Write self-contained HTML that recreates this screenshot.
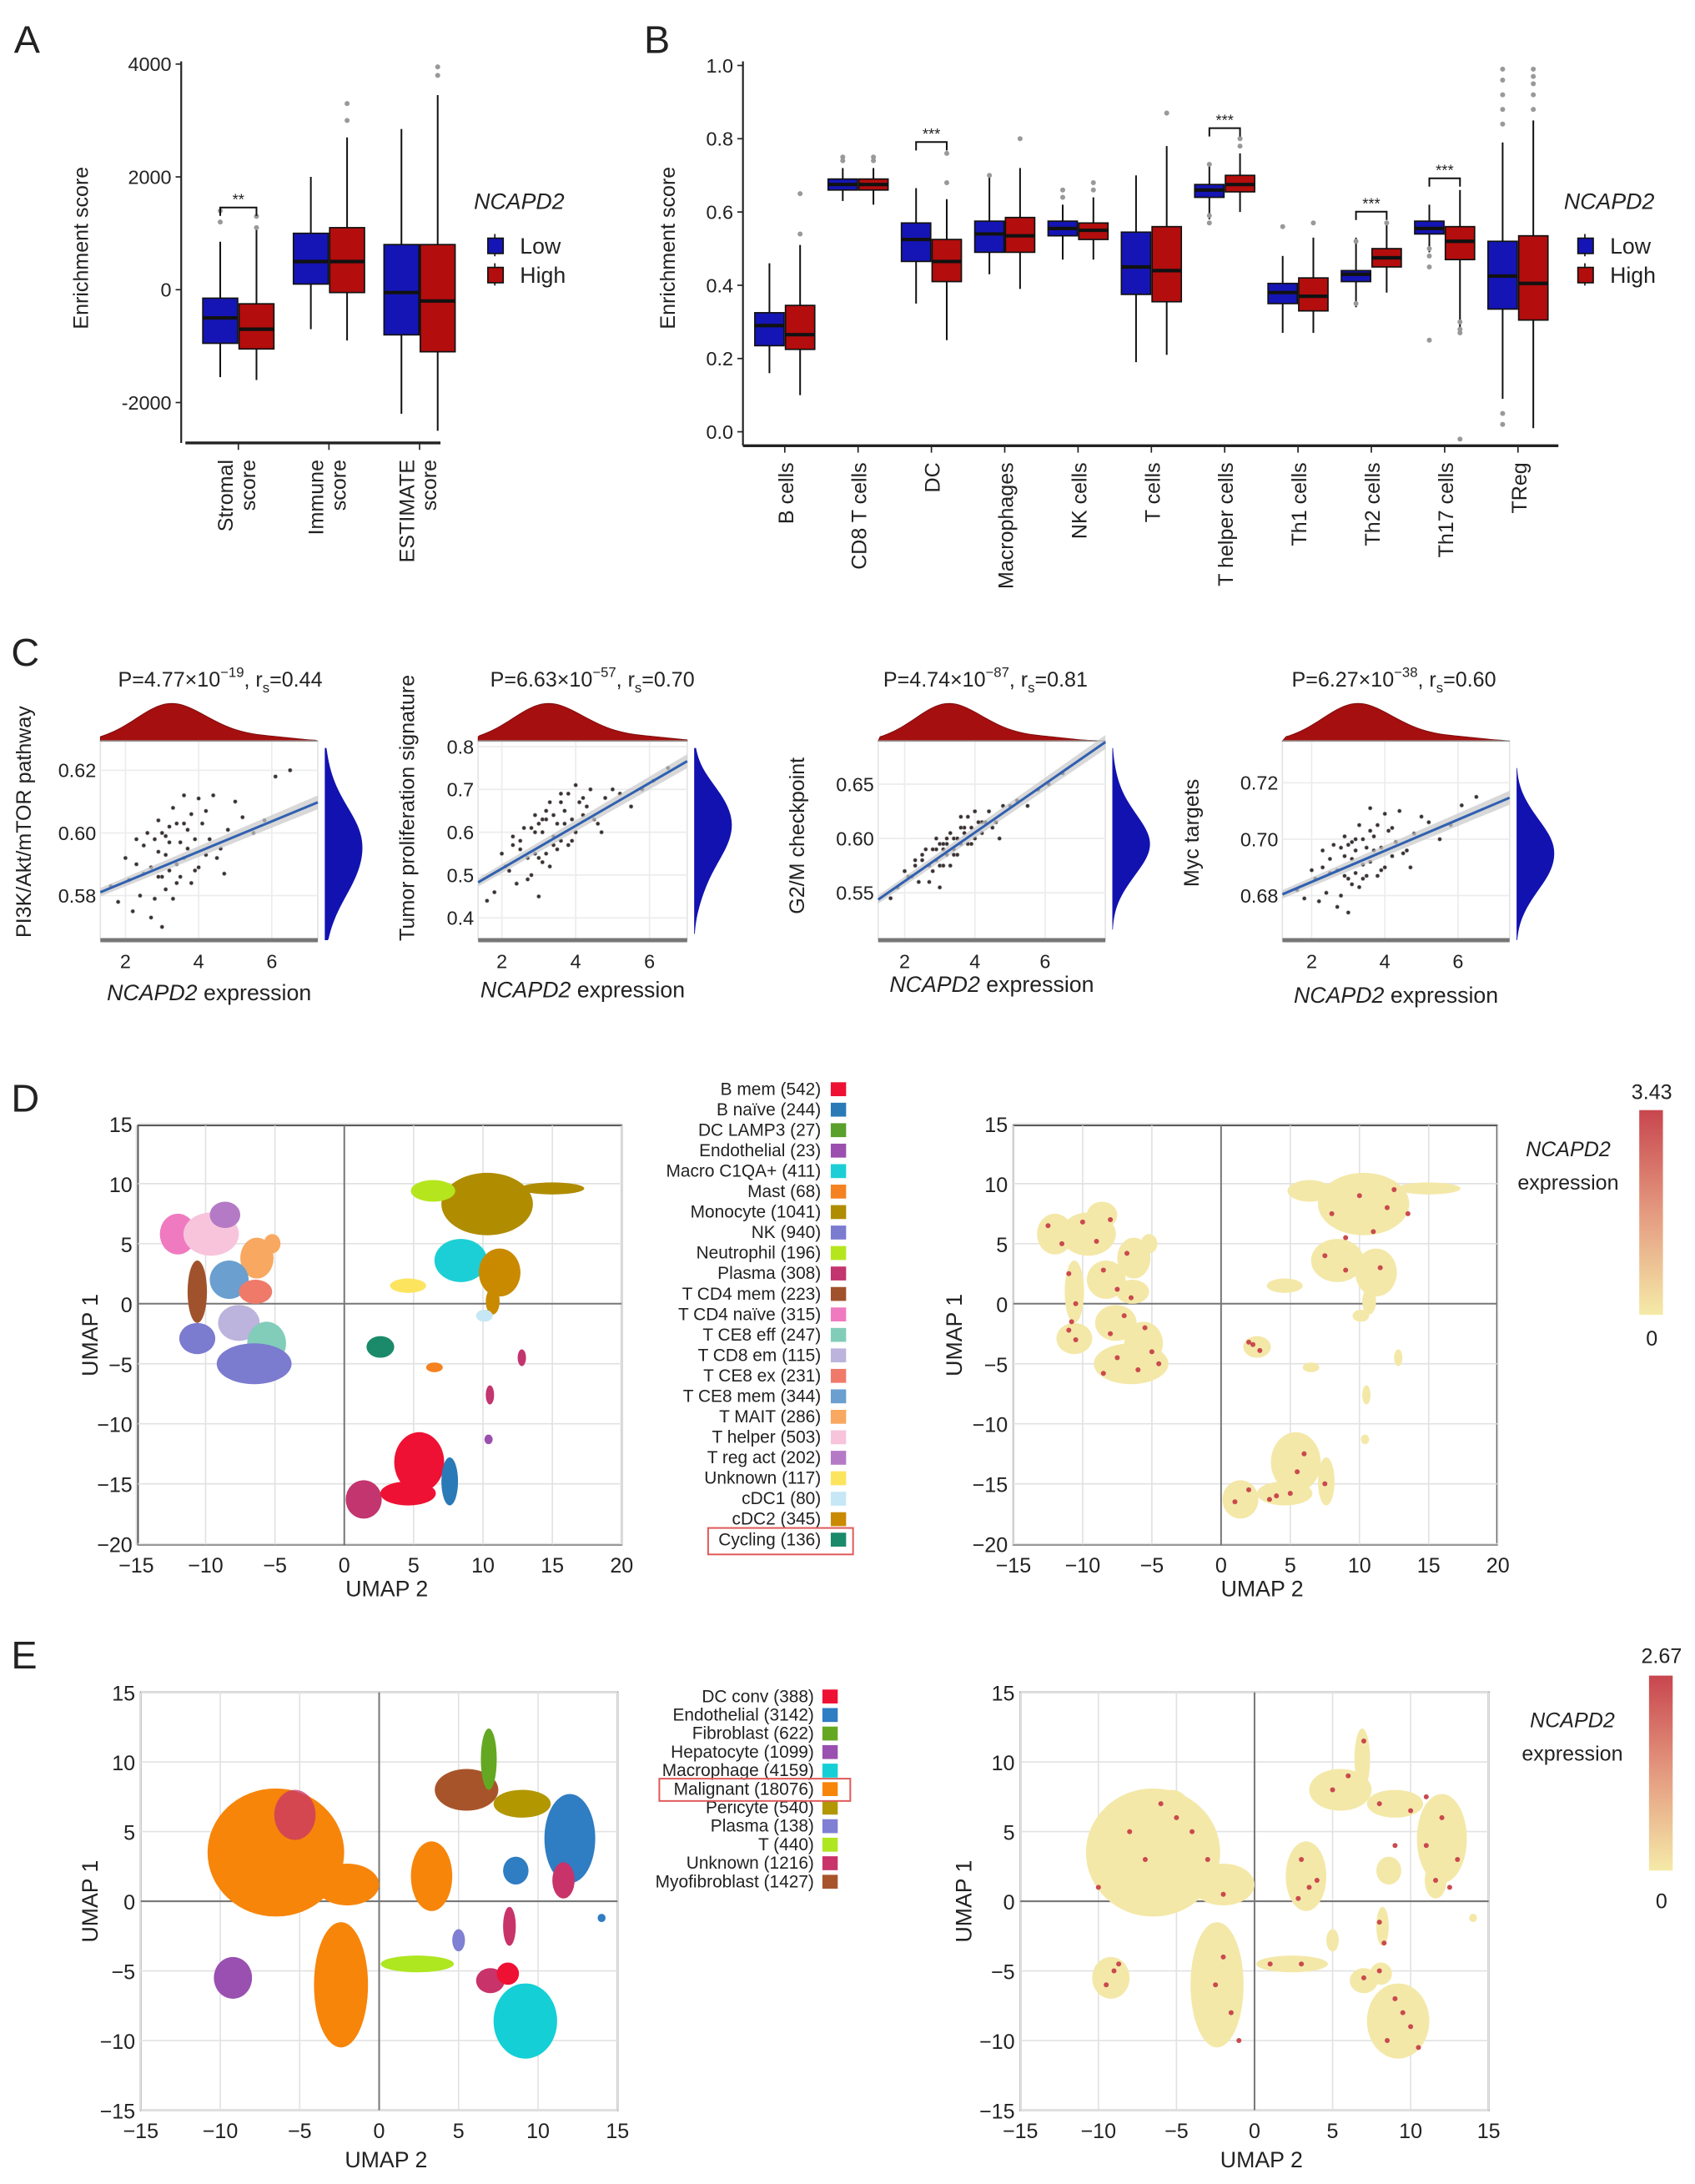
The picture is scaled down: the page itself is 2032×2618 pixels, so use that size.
<!DOCTYPE html>
<html><head><meta charset="utf-8"><title>NCAPD2 figure</title>
<style>
html,body{margin:0;padding:0;background:#fff;}
svg{display:block;font-family:"Liberation Sans",Arial,sans-serif;}
</style></head>
<body>
<svg id="fig" xmlns="http://www.w3.org/2000/svg" width="2032" height="2618" viewBox="0 0 1216 1568" preserveAspectRatio="none">
<defs>
<linearGradient id="cbar" x1="0" y1="0" x2="0" y2="1"><stop offset="0" stop-color="#c8464e"/><stop offset="0.5" stop-color="#e49a80"/><stop offset="1" stop-color="#f5eaa8"/></linearGradient>
</defs>
</svg>
<script>
// ===== Panel A data =====
const aGroups = ["Stromal|score","Immune|score","ESTIMATE|score"];
const aLow = [[-1550,-950,-500,-150,850],[-700,100,500,1000,2000],[-2200,-800,-50,800,2850]];
const aHigh = [[-1600,-1050,-700,-250,1100],[-900,-50,500,1100,2700],[-2500,-1100,-200,800,3450]];
const aHighOut = [[1100,1300],[3000,3300],[3800,3950]];
const aLowOut = [[1200,1400],[],[]];
const aTicks = [4000,2000,0,-2000];
// ===== Panel B data =====
const bCats = ["B cells","CD8 T cells","DC","Macrophages","NK cells","T cells","T helper cells","Th1 cells","Th2 cells","Th17 cells","TReg"];
const bLow = [[.16,.235,.29,.325,.46],[.63,.66,.675,.69,.72],[.35,.465,.525,.57,.665],[.43,.49,.54,.575,.70],[.47,.535,.555,.575,.62],[.19,.375,.45,.545,.70],[.58,.64,.66,.675,.73],[.27,.35,.38,.405,.48],[.34,.41,.43,.44,.53],[.49,.54,.555,.575,.62],[.09,.335,.425,.52,.79]];
const bHigh = [[.10,.225,.265,.345,.51],[.62,.66,.675,.69,.72],[.25,.41,.465,.525,.635],[.39,.49,.535,.585,.72],[.47,.525,.55,.57,.64],[.21,.355,.44,.56,.78],[.60,.655,.675,.70,.76],[.27,.33,.37,.42,.53],[.38,.45,.475,.50,.57],[.27,.47,.52,.56,.66],[.01,.305,.405,.535,.85]];
const bLowOut = [[],[.74,.75],[],[.70],[.64,.66],[],[.57,.59,.73],[.56],[.35,.52],[.25,.45,.48,.50],[.02,.05,.84,.88,.92,.96,.99]];
const bHighOut = [[.54,.65],[.74,.75],[.68,.76],[.80],[.66,.68],[.87],[.78,.80],[.57],[.57],[.27,.28,.30,-.02],[.88,.92,.95,.97,.99]];
const bSig = [2,6,8,9];
const bTicks = [0,0.2,0.4,0.6,0.8,1.0];
// ===== Panel C data =====
const cX = [2.1,2.5,2.8,3.0,3.2,3.4,3.6,3.9,4.2,4.6,5.0,5.5,6.1,1.8,2.3,2.7,2.9,3.1,3.3,3.5,3.7,4.0,4.4,4.8,2.0,2.4,2.6,3.0,3.2,3.4,3.8,4.1,4.5,5.2,6.5,1.6,2.2,2.9,3.1,3.3,3.5,3.6,3.9,4.3,2.5,2.8,3.0,3.2,3.7,4.0,2.7,3.4,3.1,2.9,3.6,4.7,5.8,2.3,3.8,4.2];
const cY1 = [0.585,0.596,0.579,0.600,0.588,0.603,0.592,0.598,0.607,0.595,0.610,0.600,0.618,0.578,0.590,0.573,0.594,0.582,0.608,0.586,0.601,0.589,0.612,0.601,0.592,0.580,0.600,0.586,0.597,0.590,0.584,0.603,0.592,0.605,0.620,0.583,0.575,0.604,0.593,0.579,0.597,0.612,0.588,0.598,0.587,0.598,0.570,0.602,0.595,0.611,0.589,0.584,0.599,0.586,0.603,0.587,0.604,0.598,0.606,0.593];
const cY2 = [0.52,0.58,0.50,0.62,0.55,0.64,0.58,0.63,0.68,0.62,0.70,0.66,0.72,0.46,0.57,0.49,0.60,0.53,0.67,0.56,0.65,0.60,0.70,0.68,0.55,0.48,0.61,0.54,0.63,0.59,0.57,0.67,0.63,0.69,0.75,0.44,0.51,0.64,0.60,0.52,0.62,0.69,0.58,0.66,0.56,0.61,0.45,0.65,0.62,0.71,0.54,0.57,0.63,0.55,0.67,0.60,0.70,0.59,0.69,0.64];
const cY3 = [0.565,0.585,0.570,0.595,0.585,0.600,0.595,0.610,0.615,0.615,0.630,0.630,0.650,0.555,0.575,0.560,0.590,0.575,0.605,0.585,0.605,0.600,0.625,0.630,0.570,0.560,0.590,0.575,0.595,0.590,0.595,0.615,0.610,0.635,0.660,0.545,0.565,0.600,0.590,0.575,0.600,0.620,0.595,0.615,0.580,0.590,0.555,0.600,0.610,0.625,0.575,0.585,0.595,0.580,0.610,0.600,0.645,0.580,0.620,0.605];
const cY4 = [0.686,0.693,0.680,0.698,0.688,0.700,0.692,0.697,0.704,0.696,0.708,0.700,0.712,0.679,0.690,0.676,0.694,0.684,0.705,0.687,0.701,0.690,0.710,0.702,0.689,0.681,0.698,0.686,0.696,0.691,0.687,0.703,0.695,0.706,0.715,0.682,0.678,0.701,0.693,0.683,0.697,0.711,0.689,0.699,0.688,0.697,0.674,0.700,0.696,0.709,0.689,0.686,0.699,0.687,0.703,0.690,0.705,0.696,0.705,0.694];
const cLineStart = [0.581,0.48,0.545,0.681];
const cLineEnd = [0.609,0.77,0.675,0.713];
const cYTicks = [[0.58,0.60,0.62],[0.4,0.5,0.6,0.7,0.8],[0.55,0.60,0.65],[0.68,0.70,0.72]];
const cYTickLabels = [["0.58","0.60","0.62"],["0.4","0.5","0.6","0.7","0.8"],["0.55","0.60","0.65"],["0.68","0.70","0.72"]];
const cPExp = ["4.77","6.63","4.74","6.27"];
const cPPow = ["−19","−57","−87","−38"];
const cRs = ["0.44","0.70","0.81","0.60"];
const cXTicks = [2,4,6];
// ===== Panel D/E data =====
const dLegend = ["B mem (542)","B naïve (244)","DC LAMP3 (27)","Endothelial (23)","Macro C1QA+ (411)","Mast (68)","Monocyte (1041)","NK (940)","Neutrophil (196)","Plasma (308)","T CD4 mem (223)","T CD4 naïve (315)","T CE8 eff (247)","T CD8 em (115)","T CE8 ex (231)","T CE8 mem (344)","T MAIT (286)","T helper (503)","T reg act (202)","Unknown (117)","cDC1 (80)","cDC2 (345)","Cycling (136)"];
const dColors = ["#ee1133","#2a7ab8","#5aa02c","#9b4fae","#1ccfd6","#f58220","#b08c00","#7b7bd0","#b5e61d","#c2356f","#a0522d","#f07ac0","#82cdb9","#bcb4dc","#f07a6a","#6a9fd0","#f8a860","#f7c4dc","#b57ac6","#fce45f","#c6e7f5","#c98a00","#1a8a6a"];
const eLegend = ["DC conv (388)","Endothelial (3142)","Fibroblast (622)","Hepatocyte (1099)","Macrophage (4159)","Malignant (18076)","Pericyte (540)","Plasma (138)","T (440)","Unknown (1216)","Myofibroblast (1427)"];
const eColors = ["#ee1133","#2f7dc3","#64a822","#9950b0","#14cfd6","#f7850a","#b29700","#7f7fd4","#aee620","#c8336a","#a8542a"];
const dClusters = [
['t-cd4-naive',-12,5.8,1.3,1.7,'#f07ac0'],['t-helper',-9.6,5.8,2,1.8,'#f7c4dc'],['t-reg-act',-8.6,7.4,1.1,1.1,'#b57ac6'],
['t-mait',-6.3,3.8,1.2,1.7,'#f8a860'],['t-mait-tail',-5.2,5,0.6,0.8,'#f8a860'],['t-cd4-mem',-10.6,1,0.7,2.6,'#a0522d'],
['t-ce8-mem',-8.3,2,1.4,1.6,'#6a9fd0'],['t-ce8-ex',-6.4,1,1.2,1,'#f07a6a'],['t-cd8-em',-7.6,-1.6,1.5,1.5,'#bcb4dc'],
['t-ce8-eff',-5.6,-3.3,1.4,1.8,'#82cdb9'],['nk-a',-10.6,-2.9,1.3,1.3,'#7b7bd0'],['nk-b',-6.5,-5,2.7,1.7,'#7b7bd0'],
['monocyte',10.3,8.3,3.3,2.6,'#b08c00'],['monocyte-tail',15,9.6,2.3,0.5,'#b08c00'],['neutrophil',6.4,9.4,1.6,0.9,'#b5e61d'],
['macro-c1qa',8.4,3.6,1.9,1.8,'#1ccfd6'],['cdc2',11.2,2.6,1.5,2,'#c98a00'],['cdc2-tail',10.7,0.2,0.5,1.1,'#c98a00'],
['unknown',4.6,1.5,1.3,0.6,'#fce45f'],['cdc1',10.1,-1,0.6,0.5,'#c6e7f5'],['cycling',2.6,-3.6,1,0.9,'#1a8a6a'],
['mast',6.5,-5.3,0.6,0.4,'#f58220'],['plasma-a',12.8,-4.5,0.3,0.7,'#c2356f'],['plasma-b',10.5,-7.6,0.3,0.8,'#c2356f'],
['plasma-c',1.4,-16.3,1.3,1.6,'#c2356f'],['endothelial',10.4,-11.3,0.3,0.4,'#9b4fae'],['b-mem-a',5.4,-13.2,1.8,2.5,'#ee1133'],
['b-mem-b',4.6,-15.8,2,1,'#ee1133'],['b-naive',7.6,-14.8,0.6,2,'#2a7ab8']];
const eClusters = [
['malignant-main',-6.5,3.5,4.3,4.6,'#f7850a'],['malignant-right',-2,1.2,2,1.5,'#f7850a'],['malignant-low',-2.4,-6,1.7,4.5,'#f7850a'],
['malignant-mid',3.3,1.8,1.3,2.5,'#f7850a'],['unknown-a',-5.3,6.2,1.3,1.8,'#c8336a'],['hepatocyte',-9.2,-5.5,1.2,1.5,'#9950b0'],
['t-cells',2.4,-4.5,2.3,0.6,'#aee620'],['plasma',5,-2.8,0.4,0.8,'#7f7fd4'],['unknown-b',7,-5.7,0.9,0.9,'#c8336a'],
['dc-conv',8.1,-5.2,0.7,0.8,'#ee1133'],['macrophage',9.2,-8.6,2,2.7,'#14cfd6'],['myofibroblast',5.5,8,2,1.5,'#a8542a'],
['fibroblast',6.9,10.2,0.5,2.2,'#64a822'],['pericyte',9,7,1.8,1,'#b29700'],['endothelial',12,4.5,1.6,3.2,'#2f7dc3'],
['endothelial-b',8.6,2.2,0.8,1,'#2f7dc3'],['unknown-c',11.6,1.5,0.7,1.3,'#c8336a'],['unknown-d',8.2,-1.8,0.4,1.4,'#c8336a'],
['endothelial-c',14,-1.2,0.25,0.3,'#2f7dc3']];
const dDotsX = [-12.5,-11.5,-10,-9,-8,-11,-10.5,-10.8,-8.5,-7.5,-6.5,-7,-8,-5.5,-5,-10.5,-11,-7.5,-6,-4.5,-8.5,-6.8,2.3,2.8,2,10,12,8,9,11,7.5,9,11.5,12.5,5.5,4,6,7.5,1,2,5,3.5,13.5];
const dDotsY = [6.5,5,6.8,5.2,7,2.5,0,-1.5,2.8,1.2,0.5,-1,-2.5,-2,-4,-3,-2.2,-4.5,-5.5,-5,-5.8,4.2,-3.4,-3.9,-3.2,9,8,7.5,5.5,6,4,2.8,3,9.5,-14,-16,-12.5,-15,-16.5,-15.5,-15.8,-16.3,7.5];
const eDotsX = [-9,-9.5,-8.7,-5,-6,-4,-7,-3,-2,3,3.5,2.8,4,5,6,7,8,10,11,12,13,12.5,11.6,8,8.3,7,8,9,10,8.5,9.5,10.5,-2,-1.5,-2.5,1,3,-8,-10,-1,9,11];
const eDotsY = [-5,-6,-4.5,6,7,5,3,3,0.5,3,1,0.2,1.5,8,9,11.5,7,6.5,4,6,3,1,1.5,-1.5,-3,-5.5,-5,-7,-9,-10,-8,-10.5,-4,-8,-6,-4.5,-4.5,5,1,-10,4,7.5];

const NS = "http://www.w3.org/2000/svg";
const svg = document.getElementById('fig');
function mk(tag, attrs, parent){ const e=document.createElementNS(NS,tag); for(const k in attrs) e.setAttribute(k,attrs[k]); (parent||svg).appendChild(e); return e; }
function grp(name){ const g=mk('g',{});   return g; }
function txt(s,x,y,size,anchor,parent,extra){ const a=Object.assign({x:x,y:y,'font-size':size,'text-anchor':anchor||'start',fill:'#222'},extra||{}); const t=mk('text',a,parent); t.textContent=s; return t; }

["A","B","C","D","E"].forEach((L,i)=>{
  const pos=[[10,38],[462,38],[8,478],[8,798],[8,1198]][i];
  const t=txt(L,pos[0],pos[1],28,'start',svg);
  
  
});

function drawBox(parent, xc, w, s, color, yf, name){
  const g=mk('g',{},parent);
  
  
  mk('line',{x1:xc,x2:xc,y1:yf(s[0]),y2:yf(s[1]),stroke:'#111','stroke-width':1.2},g);
  mk('line',{x1:xc,x2:xc,y1:yf(s[3]),y2:yf(s[4]),stroke:'#111','stroke-width':1.2},g);
  mk('rect',{x:xc-w/2,y:yf(s[3]),width:w,height:yf(s[1])-yf(s[3]),fill:color,stroke:'#111','stroke-width':1},g);
  mk('line',{x1:xc-w/2,x2:xc+w/2,y1:yf(s[2]),y2:yf(s[2]),stroke:'#111','stroke-width':2.5},g);
}
function outliers(parent, xc, arr, yf, name){
  arr.forEach(v=>{ const c=mk('circle',{cx:xc,cy:yf(v),r:1.8,fill:'#999'},parent);
    
     });
}
function legendBox(parent,x,title,yT){
  const t=txt("NCAPD2",x,yT,16,'start',parent,{'font-style':'italic'});
  
  
  [["Low","#1515b5"],["High","#b30d0d"]].forEach((p,i)=>{
    const y=yT+29+i*21;
    mk('line',{x1:x+15,x2:x+15,y1:y-11,y2:y+5,stroke:'#111'},parent);
    const r=mk('rect',{x:x+10,y:y-8,width:11,height:11,fill:p[1],stroke:'#111'},parent);
    
    
    const tt=txt(p[0],x+33,y+3,16,'start',parent);
    
    
  });
}
function sig(parent,x1,x2,y,label){
  mk('path',{d:`M${x1},${y+6}V${y}H${x2}V${y+6}`,fill:'none',stroke:'#111','stroke-width':1.2},parent);
  const t=txt(label,(x1+x2)/2,y-2,11,'middle',parent);
  
  
}

// ===== Panel A =====
(function(){
  const g=grp('panel-a-boxplot');
  const yA=v=>208-v*0.0405;
  const ax=mk('line',{x1:130,x2:130,y1:44,y2:318,stroke:'#222','stroke-width':1.3},g);
   
  const bx=mk('line',{x1:133,x2:316,y1:318,y2:318,stroke:'#222','stroke-width':2},g);
   
  aTicks.forEach(t=>{ mk('line',{x1:126,x2:130,y1:yA(t),y2:yA(t),stroke:'#222'},g);
    const l=txt(String(t),123,yA(t)+5,14,'end',g);
      });
  const yl=txt("Enrichment score",0,0,15,'middle',g,{transform:'translate(63,178) rotate(-90)'});
   
  aGroups.forEach((n,i)=>{
    const c=171+65*i;
    mk('line',{x1:c,x2:c,y1:318,y2:323,stroke:'#222'},g);
    drawBox(g,c-13,25,aLow[i],'#1515b5',yA,'box-low-'+i);
    drawBox(g,c+13,25,aHigh[i],'#b30d0d',yA,'box-high-'+i);
    outliers(g,c-13,aLowOut[i],yA,'outlier-low');
    outliers(g,c+13,aHighOut[i],yA,'outlier-high');
    const parts=n.split('|');
    const t1=txt(parts[0],0,0,15,'end',g,{transform:`translate(${c-4},330) rotate(-90)`});
     
    const t2=txt(parts[1],0,0,15,'end',g,{transform:`translate(${c+12},330) rotate(-90)`});
     
  });
  sig(g,158,184,149,"**");
  legendBox(g,340,'',150);
})();

// ===== Panel B =====
(function(){
  const g=grp('panel-b-boxplot');
  const yB=v=>310-v*263;
  const ax=mk('line',{x1:533,x2:533,y1:44,y2:320,stroke:'#222','stroke-width':1.3},g);
   
  const bx=mk('line',{x1:533,x2:1118,y1:320,y2:320,stroke:'#222','stroke-width':2},g);
   
  bTicks.forEach(t=>{ mk('line',{x1:529,x2:533,y1:yB(t),y2:yB(t),stroke:'#222'},g);
    const l=txt(t.toFixed(1),526,yB(t)+5,14,'end',g);
      });
  const yl=txt("Enrichment score",0,0,15,'middle',g,{transform:'translate(484,178) rotate(-90)'});
   
  bCats.forEach((n,i)=>{
    const c=563+52.6*i;
    mk('line',{x1:c,x2:c,y1:320,y2:325,stroke:'#222'},g);
    drawBox(g,c-11,21,bLow[i],'#1515b5',yB,'box-low-'+i);
    drawBox(g,c+11,21,bHigh[i],'#b30d0d',yB,'box-high-'+i);
    outliers(g,c-11,bLowOut[i],yB,'outlier-low');
    outliers(g,c+11,bHighOut[i],yB,'outlier-high');
    const t=txt(n,0,0,15,'end',g,{transform:`translate(${c+6},332) rotate(-90)`});
     
  });
  const sy=[102,92,152,128];
  bSig.forEach((i,k)=>{ const c=563+52.6*i; sig(g,c-11,c+11,sy[k],"***"); });
  legendBox(g,1122,'',150);
})();

// ===== Panel C =====
const cYs=[cY1,cY2,cY3,cY4];
const cFrames=[[72,228],[343,493],[630,793],[920,1083]];
const cX2=[90,360,649,941];
const cXs=[26.25,26.5,25.2,26.25];
const cYRef=[[0.58,643,2250],[0.4,659,307.5],[0.55,641,780],[0.68,643,2025]];
const cYTitles=["PI3K/Akt/mTOR pathway","Tumor proliferation signature","G2/M checkpoint","Myc targets"];
const cYTitleX=[22,297,577,860];
const cYTitleY=[590,580,600,598];
const cTitleX=[158,425,707,1000];
const cXlabY=[718,716,712,720];
function kde(arr, grid, bw){ return grid.map(g=>arr.reduce((s,v)=>s+Math.exp(-0.5*((g-v)/bw)**2),0)); }
for(let p=0;p<4;p++){
  const g=grp('panel-c-scatter-'+(p+1));
  const [fl,fr]=cFrames[p];
  const top=532, bot=675;
  const xf=v=>cX2[p]+(v-2)*cXs[p];
  const [yr,yp,ys]=cYRef[p];
  const yf=v=>yp-(v-yr)*ys;
  const bg=mk('rect',{x:fl,y:top,width:fr-fl,height:bot-top,fill:'#fff',stroke:'#e4e4e4'},g);
   
  cXTicks.forEach(t=>{ mk('line',{x1:xf(t),x2:xf(t),y1:top,y2:bot,stroke:'#ececec'},g);
    const l=txt(String(t),xf(t),695,14,'middle',g);
      });
  cYTicks[p].forEach((t,k)=>{ mk('line',{x1:fl,x2:fr,y1:yf(t),y2:yf(t),stroke:'#ececec'},g);
    const l=txt(cYTickLabels[p][k],fl-3,yf(t)+5,14,'end',g);
      });
  const gx=[]; for(let i=0;i<=60;i++) gx.push(1.3+i*(7.2-1.3)/60);
  const dx=kde(cX,gx,0.55); const mx=Math.max(...dx);
  let d=`M${fl},${top}`; gx.forEach((v,i)=>{ const x=Math.max(fl,Math.min(fr,xf(v))); d+=`L${x},${top-dx[i]/mx*27}`; }); d+=`L${fr},${top}Z`;
  const td=mk('path',{d:d,fill:'#a50f0f',stroke:'#7a0a0a','stroke-width':0.5},g);
   
  mk('line',{x1:fl,x2:fr,y1:top,y2:top,stroke:'#999','stroke-width':1},g);
  const ys0=cYs[p]; const ymin=Math.min(...ys0), ymax=Math.max(...ys0); const rng=ymax-ymin;
  const gy=[]; for(let i=0;i<=60;i++) gy.push(ymin-rng*0.25+i*rng*1.5/60);
  const dy=kde(ys0,gy,rng/7); const my=Math.max(...dy);
  let d2=`M${fr+5},${Math.min(bot,yf(gy[0]))}`; gy.forEach((v,i)=>{ const y=Math.max(top+5,Math.min(bot,yf(v))); d2+=`L${fr+5+dy[i]/my*27},${y}`; }); d2+=`L${fr+5},${Math.max(top+5,yf(gy[gy.length-1]))}Z`;
  const rd=mk('path',{d:d2,fill:'#1212b0'},g);
   
  cX.forEach((v,i)=>{ const c=mk('circle',{cx:xf(v),cy:yf(ys0[i]),r:1.4,fill:'#3a3030',stroke:'#aaa','stroke-width':0.4},g);
    
     });
  const x0=(fl-cX2[p])/cXs[p]+2, x1=(fr-cX2[p])/cXs[p]+2;
  const a0=cLineStart[p], a1=cLineEnd[p];
  const sl=(a1-a0)/(7.1-1.3); const l0=a0+sl*(x0-1.3), l1=a0+sl*(x1-1.3);
  const band=mk('path',{d:`M${fl},${yf(l0)-3}L${fr},${yf(l1)-5}L${fr},${yf(l1)+5}L${fl},${yf(l0)+3}Z`,fill:'#c8c8c8',opacity:0.7},g);
   
  const rl=mk('line',{x1:fl,y1:yf(l0),x2:fr,y2:yf(l1),stroke:'#3060b0','stroke-width':1.8},g);
   
  const bb=mk('line',{x1:fl,x2:fr,y1:bot,y2:bot,stroke:'#777','stroke-width':3},g);
   
  const t=mk('text',{x:cTitleX[p],y:493,'font-size':15,'text-anchor':'middle',fill:'#222'},g);
   
  const s1=mk('tspan',{},t); s1.textContent="P="+cPExp[p]+"×10";
  const s2=mk('tspan',{dy:-7,'font-size':10},t); s2.textContent=cPPow[p];
  const s3=mk('tspan',{dy:7},t); s3.textContent=", r";
  const s4=mk('tspan',{dy:4,'font-size':10},t); s4.textContent="s";
  const s5=mk('tspan',{dy:-4},t); s5.textContent="="+cRs[p];
  const yt=txt(cYTitles[p],0,0,15,'middle',g,{transform:`translate(${cYTitleX[p]},${cYTitleY[p]}) rotate(-90)`});
   
  const xt=mk('text',{x:(fl+fr)/2,y:cXlabY[p],'font-size':16,'text-anchor':'middle',fill:'#222'},g);
   
  const i1=mk('tspan',{'font-style':'italic'},xt); i1.textContent="NCAPD2";
  const i2=mk('tspan',{},xt); i2.textContent=" expression";
}

// ===== UMAP panels =====
function umap(name, fl, fr, top, bot, xf, yf, xTicks, yTicks, clusters, pale, dx, dy, xTitleY, yTitleX){
  const g=grp(name);
  const bg=mk('rect',{x:fl,y:top,width:fr-fl,height:bot-top,fill:'#fff',stroke:'#555','stroke-width':1.2},g);
   
  xTicks.forEach(t=>{ if(t!==0) mk('line',{x1:xf(t),x2:xf(t),y1:top,y2:bot,stroke:'#e2e2e2'},g);
    const l=txt(t<0?"−"+(-t):String(t),xf(t),bot+20,15,'middle',g);
      });
  yTicks.forEach(t=>{ if(t!==0) mk('line',{x1:fl,x2:fr,y1:yf(t),y2:yf(t),stroke:'#e2e2e2'},g);
    const l=txt(t<0?"−"+(-t):String(t),fl-4,yf(t)+6,15,'end',g);
      });
  mk('line',{x1:xf(0),x2:xf(0),y1:top,y2:bot,stroke:'#777','stroke-width':1.2},g);
  mk('line',{x1:fl,x2:fr,y1:yf(0),y2:yf(0),stroke:'#777','stroke-width':1.2},g);
  const sx=(xf(1)-xf(0)), sy=(yf(0)-yf(1));
  clusters.forEach(c=>{
    const e=mk('ellipse',{cx:xf(c[1]),cy:yf(c[2]),rx:c[3]*sx,ry:c[4]*sy,fill:pale?'#f4e8a8':c[5],opacity:(!pale&&c[0].startsWith('unknown-a'))?0.75:1},g);
    
    
  });
  if(pale){ dx.forEach((v,i)=>{ const d=mk('circle',{cx:xf(v),cy:yf(dy[i]),r:1.8,fill:'#c94a4f'},g);
    
     }); }
  const xt=txt("UMAP 2",(fl+fr)/2+5,xTitleY,16,'middle',g);
   
  const yt=txt("UMAP 1",0,0,16,'middle',g,{transform:`translate(${yTitleX},${(top+bot)/2}) rotate(-90)`});
   
  return g;
}
const dxT=[-15,-10,-5,0,5,10,15,20], dyT=[15,10,5,0,-5,-10,-15,-20];
umap('panel-d-umap-clusters',99,446,808,1109,v=>247+9.95*v,v=>936-8.62*v,dxT,dyT,dClusters,false,[],[],1146,70);
umap('panel-d-umap-expression',727,1074,808,1109,v=>876+9.93*v,v=>936-8.62*v,dxT,dyT,dClusters,true,dDotsX,dDotsY,1146,690);
const exT=[-15,-10,-5,0,5,10,15], eyT=[15,10,5,0,-5,-10,-15];
umap('panel-e-umap-clusters',101,443,1215,1515,v=>272+11.4*v,v=>1365-10*v,exT,eyT,eClusters,false,[],[],1556,70);
umap('panel-e-umap-expression',732,1068,1215,1515,v=>900+11.2*v,v=>1365-10*v,exT,eyT,eClusters,true,eDotsX,eDotsY,1556,697);

(function(){
  const g=grp('panel-d-legend');
  dLegend.forEach((n,i)=>{ const y=782+i*14.7;
    const t=txt(n,589,y+4,12.5,'end',g);  
    const r=mk('rect',{x:596,y:y-5,width:11,height:10,fill:dColors[i]},g);
      });
  const hb=mk('rect',{x:508,y:1097,width:104,height:19,fill:'none',stroke:'#e05a5a','stroke-width':1.2},g);
   
  const g2=grp('panel-e-legend');
  eLegend.forEach((n,i)=>{ const y=1218+i*13.3;
    const t=txt(n,584,y+4,12.5,'end',g2);  
    const r=mk('rect',{x:590,y:y-5,width:11,height:10,fill:eColors[i]},g2);
      });
  const hb2=mk('rect',{x:473,y:1277,width:137,height:16,fill:'none',stroke:'#e05a5a','stroke-width':1.2},g2);
   
})();
// colour bars: [x, top, bottom, maxLabel, titleX, maxLabelY, minLabelY, titleY]
[[1176,797,944,'3.43',1125,789,966,830],[1183,1203,1343,'2.67',1128,1194,1370,1240]].forEach((c,i)=>{
  const g=grp('colorbar-'+(i?'e':'d'));
  const r=mk('rect',{x:c[0],y:c[1],width:17,height:c[2]-c[1],fill:'url(#cbar)'},g);
   
  const t1=txt(c[3],c[0]+9,c[5],15,'middle',g);  
  const t2=txt('0',c[0]+9,c[6],15,'middle',g);  
  const t3=txt('NCAPD2',c[4],c[7],15,'middle',g,{'font-style':'italic'});  
  const t4=txt('expression',c[4],c[7]+24,15,'middle',g);  
});
</script>
</body></html>
